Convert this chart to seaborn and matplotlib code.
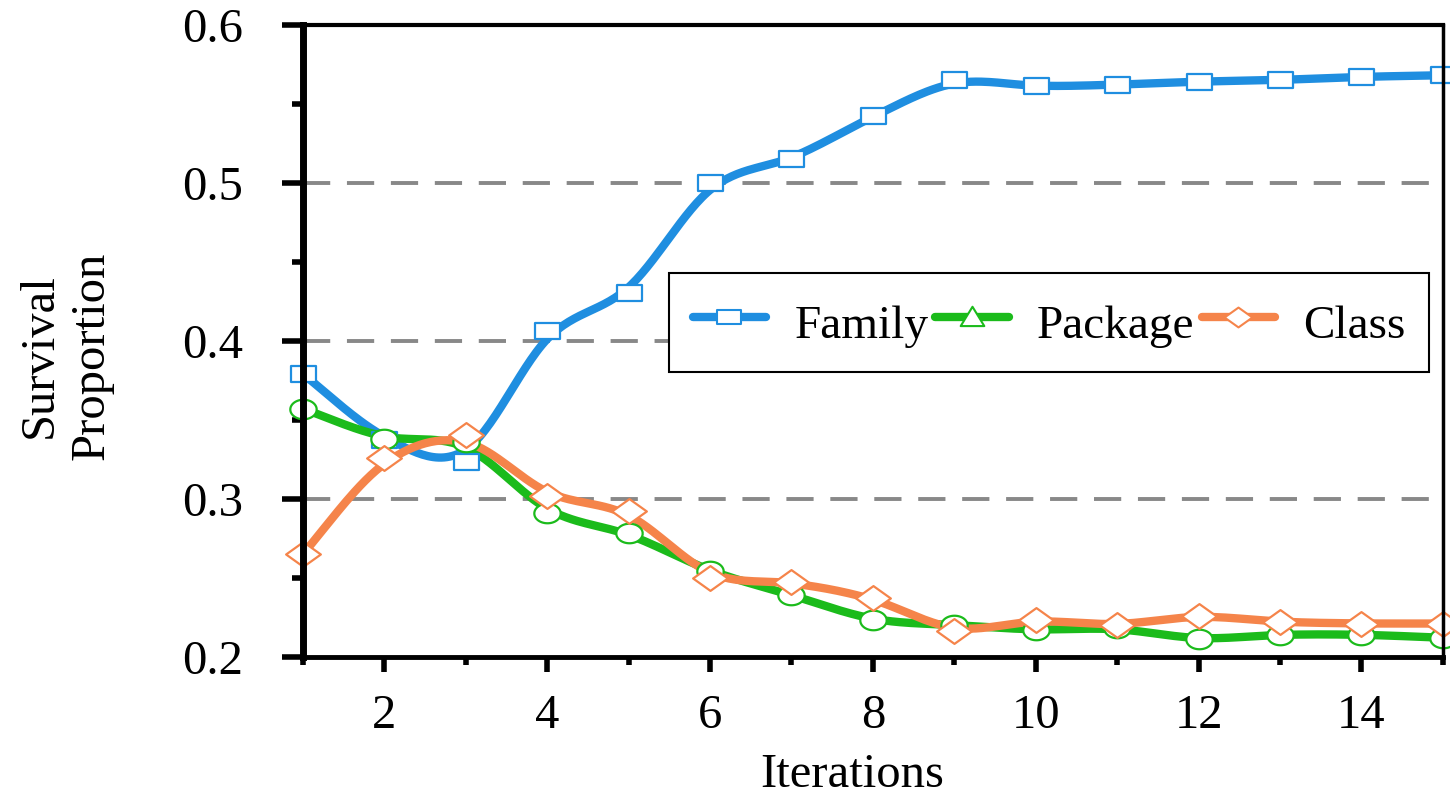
import numpy as np
import pandas as pd
import matplotlib
matplotlib.use('Agg')
import matplotlib.pyplot as plt
import seaborn as sns
from matplotlib.path import Path
from matplotlib.lines import Line2D
from matplotlib.ticker import MultipleLocator

# Data
iterations = list(range(1, 16))
family = [0.379, 0.337, 0.323, 0.406, 0.430, 0.500, 0.515, 0.542,
          0.565, 0.561, 0.562, 0.564, 0.565, 0.567, 0.568]
package = [0.357, 0.338, 0.336, 0.291, 0.278, 0.254, 0.239, 0.223,
           0.220, 0.217, 0.218, 0.211, 0.214, 0.214, 0.212]
klass = [0.265, 0.326, 0.340, 0.302, 0.292, 0.250, 0.247, 0.237,
         0.216, 0.223, 0.220, 0.226, 0.222, 0.221, 0.221]
series_names = ['Family', 'Package', 'Class']
colors = {'Family': '#1f8ee0', 'Package': '#1bbb1b', 'Class': '#f5844a'}


# smoothed line: blend of Catmull-Rom (through points) and cubic B-spline
def smooth(x, y, n=30, w=0.5):
    p = np.column_stack([np.asarray(x, float), np.asarray(y, float)])
    p = np.vstack([2 * p[0] - p[1], p, 2 * p[-1] - p[-2]])
    t = np.linspace(0, 1, n, endpoint=False)[:, None]
    # Catmull-Rom basis
    cr = [(-t ** 3 + 2 * t ** 2 - t) / 2, (3 * t ** 3 - 5 * t ** 2 + 2) / 2,
          (-3 * t ** 3 + 4 * t ** 2 + t) / 2, (t ** 3 - t ** 2) / 2]
    # uniform cubic B-spline basis
    bs = [(1 - t) ** 3 / 6, (3 * t ** 3 - 6 * t ** 2 + 4) / 6,
          (-3 * t ** 3 + 3 * t ** 2 + 3 * t + 1) / 6, t ** 3 / 6]
    out = []
    for i in range(1, len(p) - 2):
        seg = sum(((1 - w) * cr[k] + w * bs[k]) * p[i - 1 + k] for k in range(4))
        out.append(seg)
    last = (1 - w) * p[-2] + w * (p[-3] + 4 * p[-2] + p[-1]) / 6
    out.append(last[None, :])
    out = np.vstack(out)
    return out[:, 0], out[:, 1]


rows = []
for name, vals in zip(series_names, [family, package, klass]):
    sx, sy = smooth(iterations, vals)
    for a, b in zip(sx, sy):
        rows.append({'x': a, 'y': b, 'series': name})
df_smooth = pd.DataFrame(rows)

sns.set_style('white')
plt.rcParams['font.family'] = ['Liberation Serif', 'DejaVu Serif']
plt.rcParams['text.color'] = 'black'
plt.rcParams['axes.labelcolor'] = 'black'
plt.rcParams['xtick.color'] = 'black'
plt.rcParams['ytick.color'] = 'black'

fig = plt.figure(figsize=(14.5, 7.96), dpi=100)
ax = fig.add_axes([0.209, 0.175, 0.786, 0.794])

sns.lineplot(data=df_smooth, x='x', y='y', hue='series', palette=colors,
             sort=False, estimator=None, linewidth=6, legend=False, ax=ax,
             zorder=3)

# stretched marker shapes
sq = Path([(-1.65, -1), (1.65, -1), (1.65, 1), (-1.65, 1), (-1.65, -1)],
          [1, 2, 2, 2, 79])
th = np.linspace(0, 2 * np.pi, 60)
circ = Path(np.column_stack([1.35 * np.cos(th), np.sin(th)]))
dia = Path([(-1.4, 0), (0, 1), (1.4, 0), (0, -1), (-1.4, 0)], [1, 2, 2, 2, 79])
tri = Path([(-1.1, -0.8), (1.1, -0.8), (0, 1), (-1.1, -0.8)], [1, 2, 2, 79])

marker_spec = {'Family': (family, sq, 18), 'Package': (package, circ, 19),
               'Class': (klass, dia, 25)}
for name in series_names:
    vals, mk, ms = marker_spec[name]
    ax.plot(iterations, vals, linestyle='none', marker=mk, markersize=ms,
            markerfacecolor='white', markeredgecolor=colors[name],
            markeredgewidth=1.6, zorder=4, clip_on=False)

ax.set_xlim(1, 15)
ax.set_ylim(0.2, 0.6)
ax.xaxis.set_major_locator(MultipleLocator(2))
ax.xaxis.set_minor_locator(MultipleLocator(1))
ax.yaxis.set_major_locator(MultipleLocator(0.1))
ax.yaxis.set_minor_locator(MultipleLocator(0.05))
ax.set_xticks([2, 4, 6, 8, 10, 12, 14])
ax.set_yticks([0.2, 0.3, 0.4, 0.5, 0.6])
ax.set_yticklabels(['0.2', '0.3', '0.4', '0.5', '0.6'])

ax.tick_params(axis='both', which='both', bottom=True, left=True,
               top=False, right=False, direction='out', color='black')
ax.tick_params(axis='y', which='major', length=15, width=4, labelsize=35,
               pad=28)
ax.tick_params(axis='y', which='minor', length=8, width=4)
ax.tick_params(axis='x', which='major', length=11, width=4, labelsize=35,
               pad=16)
ax.tick_params(axis='x', which='minor', length=6, width=4)

ax.grid(False)
for v in [0.3, 0.4, 0.5]:
    ax.axhline(v, color='#888888', linewidth=2.8, linestyle=(0, (7, 4.3)),
               zorder=1)

ax.spines['left'].set_linewidth(5)
ax.spines['bottom'].set_linewidth(3.5)
ax.spines['top'].set_linewidth(3)
ax.spines['right'].set_linewidth(2.5)
for s in ax.spines.values():
    s.set_color('black')
    s.set_zorder(6)

ax.set_xlabel('Iterations', fontsize=35)
ax.set_ylabel('Survival\nProportion', fontsize=35, linespacing=1.25)
ax.xaxis.set_label_coords(0.482, -0.152)
ax.yaxis.set_label_coords(-0.166, 0.476)

handles = [
    Line2D([], [], color=colors['Family'], linewidth=6, marker=sq,
           markersize=17, markerfacecolor='white',
           markeredgecolor=colors['Family'], markeredgewidth=1.5),
    Line2D([], [], color=colors['Package'], linewidth=6, marker=tri,
           markersize=17, markerfacecolor='white',
           markeredgecolor=colors['Package'], markeredgewidth=1.5),
    Line2D([], [], color=colors['Class'], linewidth=6, marker=dia,
           markersize=20, markerfacecolor='white',
           markeredgecolor=colors['Class'], markeredgewidth=1.5),
]
leg = ax.legend(handles, series_names, loc='upper right',
                bbox_to_anchor=(0.988, 0.607), ncol=3, fontsize=34,
                frameon=True, fancybox=False, framealpha=1,
                edgecolor='black', handlelength=1.55, handletextpad=0.6,
                columnspacing=0.15, borderpad=0.5, borderaxespad=0,
                handleheight=1.3)
leg.get_frame().set_linewidth(1.5)
leg.set_zorder(5)

fig.savefig('out.png', dpi=100)
